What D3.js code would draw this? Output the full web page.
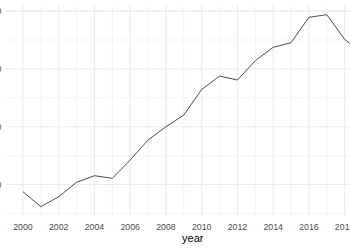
<!DOCTYPE html>
<html>
<head>
<meta charset="utf-8">
<script src="https://cdn.jsdelivr.net/npm/d3@7"></script>
<style>
  html, body { margin: 0; padding: 0; background: #ffffff; }
  svg { display: block; }
</style>
</head>
<body>
<svg id="chart" width="350" height="250"></svg>
<script>
// ---- data ----
const years = [2000, 2001, 2002, 2003, 2004, 2005, 2006, 2007, 2008, 2009,
               2010, 2011, 2012, 2013, 2014, 2015, 2016, 2017, 2018, 2019];
const values = [18.75, 16.16, 17.89, 20.38, 21.52, 21.07, 24.24, 27.70, 30.0, 32.02,
                36.44, 38.77, 38.08, 41.42, 43.74, 44.53, 48.93, 49.38, 45.12, 42.6];
const xMajorTicks = [2000, 2002, 2004, 2006, 2008, 2010, 2012, 2014, 2016, 2018];
const xMinorTicks = [2001, 2003, 2005, 2007, 2009, 2011, 2013, 2015, 2017, 2019];
const yMajorTicks = [20, 30, 40, 50];
const yMinorTicks = [15, 25, 35, 45];
const xTitle = "year";

// ---- layout ----
const svg = d3.select("#chart");
const panel = { left: 6, right: 379.5, top: 5.1, bottom: 216.3 };

function expand(ext) {
  const r = ext[1] - ext[0];
  return [ext[0] - 0.05 * r, ext[1] + 0.05 * r];
}
const x = d3.scaleLinear().domain(expand(d3.extent(years))).range([panel.left, panel.right]);
const y = d3.scaleLinear().domain(expand(d3.extent(values))).range([panel.bottom, panel.top]);

const grid = svg.append("g");
// minor grid
grid.selectAll(".vminor").data(xMinorTicks).join("line")
  .attr("x1", d => x(d)).attr("x2", d => x(d))
  .attr("y1", panel.top).attr("y2", panel.bottom)
  .attr("stroke", "#EBEBEB").attr("stroke-width", 0.6);
grid.selectAll(".hminor").data(yMinorTicks).join("line")
  .attr("x1", panel.left).attr("x2", panel.right)
  .attr("y1", d => y(d)).attr("y2", d => y(d))
  .attr("stroke", "#EBEBEB").attr("stroke-width", 0.6);
// major grid
grid.selectAll(".vmajor").data(xMajorTicks).join("line")
  .attr("x1", d => x(d)).attr("x2", d => x(d))
  .attr("y1", panel.top).attr("y2", panel.bottom)
  .attr("stroke", "#EBEBEB").attr("stroke-width", 1.07);
grid.selectAll(".hmajor").data(yMajorTicks).join("line")
  .attr("x1", panel.left).attr("x2", panel.right)
  .attr("y1", d => y(d)).attr("y2", d => y(d))
  .attr("stroke", "#EBEBEB").attr("stroke-width", 1.07);

// line
const line = d3.line().x((d, i) => x(years[i])).y(d => y(d));
svg.append("path").datum(values)
  .attr("d", line)
  .attr("fill", "none")
  .attr("stroke", "#3a3a3a")
  .attr("stroke-width", 0.9);

// x axis labels
const fontFam = "'Liberation Sans', Arial, sans-serif";
svg.append("g").selectAll("text").data(xMajorTicks).join("text")
  .attr("x", d => x(d)).attr("y", 229.8)
  .attr("text-anchor", "middle")
  .attr("font-family", fontFam).attr("font-size", 8.8)
  .attr("fill", "#4D4D4D")
  .text(d => d);

// y axis labels (mostly cropped off the left edge)
svg.append("g").selectAll("text").data(yMajorTicks).join("text")
  .attr("x", 1.5).attr("y", d => y(d) + 3.1)
  .attr("text-anchor", "end")
  .attr("font-family", fontFam).attr("font-size", 8.8)
  .attr("fill", "#4D4D4D")
  .text(d => d);

// x title
svg.append("text")
  .attr("x", (panel.left + panel.right) / 2).attr("y", 241.5)
  .attr("text-anchor", "middle")
  .attr("font-family", fontFam).attr("font-size", 11)
  .attr("fill", "#000000")
  .text(xTitle);
</script>
</body>
</html>
